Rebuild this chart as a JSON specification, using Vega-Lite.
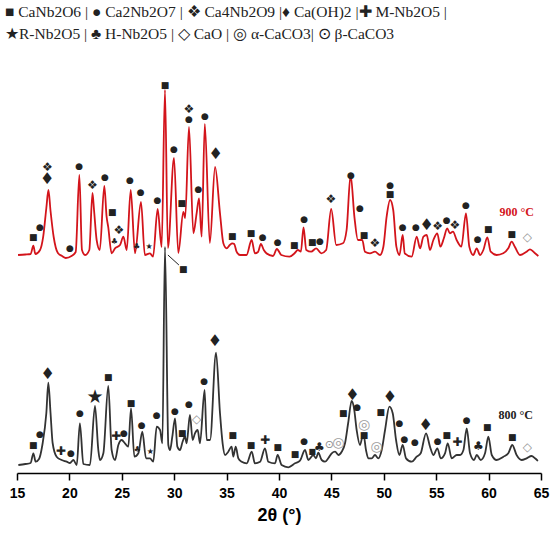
{
  "$schema": "https://vega.github.io/schema/vega-lite/v6.json",
  "width": 524,
  "height": 428,
  "autosize": "none",
  "padding": {"left": 17, "top": 45, "right": 9, "bottom": 77},
  "background": "white",
  "config": {"view": {"stroke": null}},
  "title": {
    "text": ["■ CaNb2O6 | ● Ca2Nb2O7 | ❖ Ca4Nb2O9 |♦ Ca(OH)2 |✚ M-Nb2O5 |", "★R-Nb2O5 | ♣ H-Nb2O5 | ◇ CaO | ◎ α-CaCO3| ⊙ β-CaCO3"],
    "anchor": "start",
    "frame": "group",
    "dx": -12,
    "offset": 3,
    "font": "Liberation Serif",
    "fontSize": 15.5,
    "fontWeight": "normal",
    "lineHeight": 22,
    "color": "#222"
  },
  "datasets": {
    "curves": [
      {"s":"900 °C","t":15.1,"v":218},{"s":"900 °C","t":15.8,"v":218.5},{"s":"900 °C","t":16.3,"v":219},{"s":"900 °C","t":16.56,"v":227.3},{"s":"900 °C","t":16.75,"v":219},{"s":"900 °C","t":17.2,"v":223},{"s":"900 °C","t":17.5,"v":236.3},{"s":"900 °C","t":17.8,"v":265},{"s":"900 °C","t":18.0,"v":283},{"s":"900 °C","t":18.2,"v":262},{"s":"900 °C","t":18.5,"v":236},{"s":"900 °C","t":18.9,"v":220},{"s":"900 °C","t":19.3,"v":217},{"s":"900 °C","t":19.65,"v":215},{"s":"900 °C","t":20.2,"v":217},{"s":"900 °C","t":20.6,"v":221},{"s":"900 °C","t":20.95,"v":298},{"s":"900 °C","t":21.2,"v":223},{"s":"900 °C","t":21.5,"v":218},{"s":"900 °C","t":21.9,"v":223},{"s":"900 °C","t":22.2,"v":280},{"s":"900 °C","t":22.35,"v":263},{"s":"900 °C","t":22.6,"v":233},{"s":"900 °C","t":22.9,"v":223},{"s":"900 °C","t":23.33,"v":287},{"s":"900 °C","t":23.55,"v":256.3},{"s":"900 °C","t":23.7,"v":246.3},{"s":"900 °C","t":24.03,"v":219.7},{"s":"900 °C","t":24.35,"v":224.7},{"s":"900 °C","t":24.83,"v":228},{"s":"900 °C","t":25.15,"v":236.3},{"s":"900 °C","t":25.47,"v":223},{"s":"900 °C","t":25.85,"v":283},{"s":"900 °C","t":26.26,"v":219.7},{"s":"900 °C","t":26.83,"v":271},{"s":"900 °C","t":27.2,"v":218},{"s":"900 °C","t":27.69,"v":219.7},{"s":"900 °C","t":27.98,"v":216.3},{"s":"900 °C","t":28.42,"v":264},{"s":"900 °C","t":28.8,"v":226},{"s":"900 °C","t":29.12,"v":383},{"s":"900 °C","t":29.4,"v":225},{"s":"900 °C","t":29.98,"v":315},{"s":"900 °C","t":30.39,"v":220},{"s":"900 °C","t":30.87,"v":261},{"s":"900 °C","t":31.05,"v":255},{"s":"900 °C","t":31.41,"v":346},{"s":"900 °C","t":31.83,"v":239.7},{"s":"900 °C","t":32.14,"v":259.7},{"s":"900 °C","t":32.37,"v":274.7},{"s":"900 °C","t":32.62,"v":236.3},{"s":"900 °C","t":32.92,"v":349},{"s":"900 °C","t":33.4,"v":230},{"s":"900 °C","t":33.9,"v":306},{"s":"900 °C","t":34.37,"v":259.7},{"s":"900 °C","t":34.69,"v":229.7},{"s":"900 °C","t":35.0,"v":224.7},{"s":"900 °C","t":35.31,"v":228},{"s":"900 °C","t":35.54,"v":229.7},{"s":"900 °C","t":35.73,"v":229},{"s":"900 °C","t":35.95,"v":221.3},{"s":"900 °C","t":36.27,"v":218},{"s":"900 °C","t":36.9,"v":218},{"s":"900 °C","t":37.39,"v":233},{"s":"900 °C","t":37.7,"v":219.7},{"s":"900 °C","t":38.0,"v":221},{"s":"900 °C","t":38.27,"v":229},{"s":"900 °C","t":38.55,"v":223},{"s":"900 °C","t":38.8,"v":219.7},{"s":"900 °C","t":39.43,"v":217},{"s":"900 °C","t":39.8,"v":224},{"s":"900 °C","t":40.22,"v":218},{"s":"900 °C","t":41.0,"v":216.3},{"s":"900 °C","t":41.48,"v":219.7},{"s":"900 °C","t":41.8,"v":223},{"s":"900 °C","t":42.09,"v":221.5},{"s":"900 °C","t":42.34,"v":245.7},{"s":"900 °C","t":42.6,"v":223},{"s":"900 °C","t":43.07,"v":221.3},{"s":"900 °C","t":43.55,"v":224.7},{"s":"900 °C","t":44.03,"v":219.7},{"s":"900 °C","t":44.5,"v":223},{"s":"900 °C","t":44.98,"v":264},{"s":"900 °C","t":45.46,"v":228},{"s":"900 °C","t":46.1,"v":229.7},{"s":"900 °C","t":46.45,"v":243},{"s":"900 °C","t":46.83,"v":298},{"s":"900 °C","t":47.2,"v":255.7},{"s":"900 °C","t":47.53,"v":233},{"s":"900 °C","t":47.95,"v":233},{"s":"900 °C","t":48.2,"v":221.3},{"s":"900 °C","t":48.68,"v":219.7},{"s":"900 °C","t":49.16,"v":221.3},{"s":"900 °C","t":49.64,"v":218},{"s":"900 °C","t":49.96,"v":226.3},{"s":"900 °C","t":50.27,"v":256.3},{"s":"900 °C","t":50.6,"v":273},{"s":"900 °C","t":50.9,"v":263},{"s":"900 °C","t":51.2,"v":226.3},{"s":"900 °C","t":51.5,"v":218},{"s":"900 °C","t":51.8,"v":238},{"s":"900 °C","t":52.0,"v":219.7},{"s":"900 °C","t":52.66,"v":216.3},{"s":"900 °C","t":53.14,"v":236.3},{"s":"900 °C","t":53.46,"v":224.7},{"s":"900 °C","t":53.78,"v":236.3},{"s":"900 °C","t":54.1,"v":238},{"s":"900 °C","t":54.4,"v":223},{"s":"900 °C","t":54.73,"v":233},{"s":"900 °C","t":55.1,"v":239.7},{"s":"900 °C","t":55.4,"v":226.3},{"s":"900 °C","t":55.73,"v":234.7},{"s":"900 °C","t":56.05,"v":244.7},{"s":"900 °C","t":56.3,"v":239.7},{"s":"900 °C","t":56.6,"v":241.3},{"s":"900 °C","t":56.95,"v":233},{"s":"900 °C","t":57.4,"v":226.3},{"s":"900 °C","t":57.84,"v":259.7},{"s":"900 °C","t":58.16,"v":226.3},{"s":"900 °C","t":58.54,"v":218},{"s":"900 °C","t":58.86,"v":224.7},{"s":"900 °C","t":59.18,"v":218},{"s":"900 °C","t":59.5,"v":223},{"s":"900 °C","t":59.88,"v":235.7},{"s":"900 °C","t":60.2,"v":221.3},{"s":"900 °C","t":60.77,"v":218},{"s":"900 °C","t":61.4,"v":219.7},{"s":"900 °C","t":61.88,"v":224.7},{"s":"900 °C","t":62.2,"v":231.3},{"s":"900 °C","t":62.5,"v":226.3},{"s":"900 °C","t":63.0,"v":218},{"s":"900 °C","t":63.63,"v":221.3},{"s":"900 °C","t":63.95,"v":223.7},{"s":"900 °C","t":64.43,"v":219.7},{"s":"900 °C","t":64.75,"v":217},
      {"s":"800 °C","t":15.13,"v":8},{"s":"800 °C","t":15.8,"v":9},{"s":"800 °C","t":16.3,"v":10},{"s":"800 °C","t":16.56,"v":19.7},{"s":"800 °C","t":16.78,"v":11.3},{"s":"800 °C","t":17.1,"v":14},{"s":"800 °C","t":17.42,"v":28},{"s":"800 °C","t":17.8,"v":60},{"s":"800 °C","t":17.99,"v":90.3},{"s":"800 °C","t":18.2,"v":60},{"s":"800 °C","t":18.4,"v":30},{"s":"800 °C","t":18.78,"v":16.3},{"s":"800 °C","t":19.26,"v":13},{"s":"800 °C","t":19.74,"v":11.3},{"s":"800 °C","t":20.05,"v":10},{"s":"800 °C","t":20.38,"v":13},{"s":"800 °C","t":20.7,"v":8},{"s":"800 °C","t":21.0,"v":49.7},{"s":"800 °C","t":21.33,"v":9},{"s":"800 °C","t":21.96,"v":8},{"s":"800 °C","t":22.44,"v":67},{"s":"800 °C","t":22.76,"v":23},{"s":"800 °C","t":22.92,"v":13},{"s":"800 °C","t":23.24,"v":19.7},{"s":"800 °C","t":23.71,"v":87},{"s":"800 °C","t":24.03,"v":23},{"s":"800 °C","t":24.35,"v":13},{"s":"800 °C","t":24.67,"v":28},{"s":"800 °C","t":24.99,"v":33},{"s":"800 °C","t":25.3,"v":29.7},{"s":"800 °C","t":25.62,"v":26.3},{"s":"800 °C","t":25.88,"v":64.7},{"s":"800 °C","t":26.2,"v":16.3},{"s":"800 °C","t":26.58,"v":19.7},{"s":"800 °C","t":26.96,"v":41.3},{"s":"800 °C","t":27.31,"v":14.7},{"s":"800 °C","t":27.69,"v":14.7},{"s":"800 °C","t":28.0,"v":11.3},{"s":"800 °C","t":28.33,"v":46.3},{"s":"800 °C","t":28.65,"v":43},{"s":"800 °C","t":28.87,"v":29.7},{"s":"800 °C","t":29.12,"v":226},{"s":"800 °C","t":29.44,"v":28},{"s":"800 °C","t":29.6,"v":23},{"s":"800 °C","t":29.82,"v":36.3},{"s":"800 °C","t":30.08,"v":54.7},{"s":"800 °C","t":30.3,"v":26.3},{"s":"800 °C","t":30.55,"v":23},{"s":"800 °C","t":30.8,"v":31.3},{"s":"800 °C","t":31.03,"v":36.3},{"s":"800 °C","t":31.19,"v":29.7},{"s":"800 °C","t":31.5,"v":58},{"s":"800 °C","t":31.76,"v":33},{"s":"800 °C","t":31.98,"v":39.7},{"s":"800 °C","t":32.24,"v":43},{"s":"800 °C","t":32.46,"v":29.7},{"s":"800 °C","t":32.9,"v":83},{"s":"800 °C","t":33.1,"v":33},{"s":"800 °C","t":33.42,"v":33},{"s":"800 °C","t":33.99,"v":120.3},{"s":"800 °C","t":34.37,"v":59.7},{"s":"800 °C","t":34.62,"v":29.7},{"s":"800 °C","t":34.85,"v":18},{"s":"800 °C","t":35.16,"v":21.3},{"s":"800 °C","t":35.48,"v":26.3},{"s":"800 °C","t":35.64,"v":16.3},{"s":"800 °C","t":35.87,"v":26.3},{"s":"800 °C","t":36.12,"v":14.7},{"s":"800 °C","t":36.44,"v":11.3},{"s":"800 °C","t":36.92,"v":9.7},{"s":"800 °C","t":37.4,"v":21.3},{"s":"800 °C","t":37.7,"v":9.7},{"s":"800 °C","t":38.2,"v":11.3},{"s":"800 °C","t":38.66,"v":24.7},{"s":"800 °C","t":38.98,"v":11.3},{"s":"800 °C","t":39.62,"v":9.7},{"s":"800 °C","t":39.87,"v":18},{"s":"800 °C","t":40.25,"v":8},{"s":"800 °C","t":40.89,"v":5.7},{"s":"800 °C","t":41.53,"v":9.7},{"s":"800 °C","t":42.0,"v":12.3},{"s":"800 °C","t":42.48,"v":23},{"s":"800 °C","t":42.8,"v":13},{"s":"800 °C","t":43.27,"v":18},{"s":"800 °C","t":43.53,"v":14.7},{"s":"800 °C","t":43.75,"v":20.3},{"s":"800 °C","t":44.07,"v":13},{"s":"800 °C","t":44.39,"v":11.3},{"s":"800 °C","t":44.7,"v":14.7},{"s":"800 °C","t":45.03,"v":19.7},{"s":"800 °C","t":45.35,"v":21.3},{"s":"800 °C","t":45.67,"v":18},{"s":"800 °C","t":45.98,"v":21.3},{"s":"800 °C","t":46.3,"v":29.7},{"s":"800 °C","t":46.6,"v":50},{"s":"800 °C","t":46.93,"v":72},{"s":"800 °C","t":47.16,"v":64.7},{"s":"800 °C","t":47.41,"v":43},{"s":"800 °C","t":47.73,"v":28},{"s":"800 °C","t":48.05,"v":39.7},{"s":"800 °C","t":48.3,"v":23},{"s":"800 °C","t":48.52,"v":14.7},{"s":"800 °C","t":48.84,"v":14.7},{"s":"800 °C","t":49.16,"v":18},{"s":"800 °C","t":49.48,"v":14.7},{"s":"800 °C","t":49.8,"v":23},{"s":"800 °C","t":50.12,"v":43},{"s":"800 °C","t":50.53,"v":66.3},{"s":"800 °C","t":50.85,"v":59.7},{"s":"800 °C","t":51.17,"v":33},{"s":"800 °C","t":51.49,"v":18},{"s":"800 °C","t":51.8,"v":28},{"s":"800 °C","t":52.12,"v":14.7},{"s":"800 °C","t":52.66,"v":11.3},{"s":"800 °C","t":53.14,"v":16.3},{"s":"800 °C","t":53.52,"v":19.7},{"s":"800 °C","t":54.03,"v":39.7},{"s":"800 °C","t":54.41,"v":26.3},{"s":"800 °C","t":54.73,"v":18},{"s":"800 °C","t":55.11,"v":24.7},{"s":"800 °C","t":55.43,"v":14.7},{"s":"800 °C","t":55.84,"v":19.7},{"s":"800 °C","t":56.1,"v":29.7},{"s":"800 °C","t":56.48,"v":14.7},{"s":"800 °C","t":56.96,"v":18},{"s":"800 °C","t":57.28,"v":18},{"s":"800 °C","t":57.6,"v":23},{"s":"800 °C","t":57.91,"v":44.7},{"s":"800 °C","t":58.23,"v":19.7},{"s":"800 °C","t":58.61,"v":13},{"s":"800 °C","t":58.87,"v":18},{"s":"800 °C","t":59.25,"v":13},{"s":"800 °C","t":59.66,"v":19.7},{"s":"800 °C","t":59.98,"v":36.3},{"s":"800 °C","t":60.3,"v":18},{"s":"800 °C","t":60.77,"v":13},{"s":"800 °C","t":61.41,"v":16.3},{"s":"800 °C","t":61.88,"v":19.7},{"s":"800 °C","t":62.26,"v":28},{"s":"800 °C","t":62.67,"v":18},{"s":"800 °C","t":63.15,"v":13},{"s":"800 °C","t":63.63,"v":14.7},{"s":"800 °C","t":64.1,"v":17},{"s":"800 °C","t":64.43,"v":14.7},{"s":"800 °C","t":64.7,"v":12}
    ],
    "marks": [
      {"t":16.56,"v":236.3,"sym":"■","tr":false},{"t":17.19,"v":246.3,"sym":"●","tr":false},{"t":17.89,"v":306.5,"sym":"❖","tr":false},{"t":17.89,"v":294,"sym":"♦","tr":false},{"t":20.06,"v":225.3,"sym":"●","tr":false},{"t":20.94,"v":307,"sym":"●","tr":false},{"t":22.19,"v":288,"sym":"❖","tr":false},{"t":23.4,"v":295.7,"sym":"●","tr":false},{"t":24.09,"v":261.3,"sym":"■","tr":false},{"t":24.28,"v":230.7,"sym":"♣","tr":true},{"t":24.73,"v":243,"sym":"❖","tr":false},{"t":25.78,"v":293,"sym":"●","tr":false},{"t":26.42,"v":226.3,"sym":"♣","tr":true},{"t":27.6,"v":225.7,"sym":"★","tr":true},{"t":26.8,"v":281.3,"sym":"●","tr":false},{"t":28.39,"v":273,"sym":"●","tr":false},{"t":29.12,"v":388,"sym":"■","tr":false},{"t":29.98,"v":324,"sym":"●","tr":false},{"t":30.72,"v":269.7,"sym":"■","tr":false},{"t":31.41,"v":364,"sym":"❖","tr":false},{"t":31.41,"v":353.7,"sym":"●","tr":false},{"t":32.3,"v":283.7,"sym":"●","tr":false},{"t":32.94,"v":357,"sym":"●","tr":false},{"t":33.96,"v":319,"sym":"♦","tr":false},{"t":35.54,"v":237,"sym":"■","tr":false},{"t":37.33,"v":239.7,"sym":"■","tr":false},{"t":38.44,"v":236.3,"sym":"●","tr":false},{"t":39.88,"v":231.3,"sym":"●","tr":false},{"t":41.46,"v":228,"sym":"■","tr":false},{"t":42.39,"v":253.7,"sym":"●","tr":false},{"t":43.18,"v":231.3,"sym":"■","tr":false},{"t":43.91,"v":232,"sym":"●","tr":false},{"t":44.96,"v":273.7,"sym":"❖","tr":false},{"t":46.87,"v":298.3,"sym":"●","tr":false},{"t":47.73,"v":265,"sym":"●","tr":false},{"t":48.11,"v":238,"sym":"■","tr":false},{"t":49.16,"v":230.3,"sym":"❖","tr":false},{"t":50.6,"v":288,"sym":"●","tr":false},{"t":50.6,"v":278.7,"sym":"■","tr":false},{"t":51.8,"v":245.7,"sym":"●","tr":false},{"t":53.07,"v":245.7,"sym":"●","tr":false},{"t":54.09,"v":248,"sym":"♦","tr":false},{"t":55.14,"v":247,"sym":"❖","tr":false},{"t":56.0,"v":253,"sym":"●","tr":false},{"t":56.79,"v":248,"sym":"❖","tr":false},{"t":57.84,"v":268,"sym":"●","tr":false},{"t":58.96,"v":234,"sym":"●","tr":false},{"t":59.97,"v":244,"sym":"■","tr":false},{"t":62.2,"v":238.7,"sym":"■","tr":false},{"t":63.69,"v":235.7,"sym":"◇","tr":false},
      {"t":16.56,"v":28,"sym":"■","tr":false},{"t":17.19,"v":38.7,"sym":"●","tr":false},{"t":17.93,"v":98.7,"sym":"♦","tr":false},{"t":19.17,"v":22,"sym":"✚","tr":false},{"t":20.15,"v":19.7,"sym":"●","tr":false},{"t":21.01,"v":59.7,"sym":"●","tr":false},{"t":22.44,"v":75.7,"sym":"★","tr":false},{"t":23.71,"v":95.7,"sym":"■","tr":false},{"t":24.45,"v":37.3,"sym":"✚","tr":false},{"t":25.21,"v":40.3,"sym":"●","tr":false},{"t":25.88,"v":69.7,"sym":"■","tr":false},{"t":26.48,"v":23,"sym":"♣","tr":true},{"t":26.9,"v":48,"sym":"●","tr":false},{"t":27.72,"v":21.3,"sym":"★","tr":true},{"t":28.33,"v":58,"sym":"●","tr":false},{"t":30.87,"v":204,"sym":"■","tr":false},{"t":30.08,"v":62.3,"sym":"●","tr":false},{"t":30.77,"v":39.7,"sym":"■","tr":false},{"t":31.41,"v":68.7,"sym":"●","tr":false},{"t":32.15,"v":53.7,"sym":"◇","tr":false},{"t":32.87,"v":92.3,"sym":"●","tr":false},{"t":33.89,"v":132.3,"sym":"♦","tr":false},{"t":35.58,"v":38,"sym":"■","tr":false},{"t":37.33,"v":28,"sym":"■","tr":false},{"t":38.66,"v":33,"sym":"✚","tr":false},{"t":39.88,"v":26.3,"sym":"■","tr":false},{"t":41.53,"v":18.7,"sym":"■","tr":false},{"t":42.41,"v":32,"sym":"●","tr":false},{"t":43.18,"v":21.3,"sym":"■","tr":true},{"t":43.85,"v":26.3,"sym":"♣","tr":false},{"t":44.8,"v":28,"sym":"⊙","tr":false},{"t":45.66,"v":30.3,"sym":"◎","tr":false},{"t":46.14,"v":59.7,"sym":"■","tr":false},{"t":47.01,"v":78.5,"sym":"♦","tr":false},{"t":47.47,"v":66.3,"sym":"●","tr":false},{"t":48.13,"v":48.3,"sym":"◎","tr":false},{"t":48.11,"v":38,"sym":"■","tr":false},{"t":49.7,"v":60.7,"sym":"■","tr":false},{"t":49.32,"v":26.3,"sym":"◎","tr":false},{"t":50.59,"v":75.7,"sym":"♦","tr":false},{"t":51.48,"v":49.7,"sym":"●","tr":false},{"t":51.96,"v":34,"sym":"●","tr":false},{"t":52.98,"v":31.3,"sym":"●","tr":false},{"t":54.0,"v":48,"sym":"♦","tr":false},{"t":55.14,"v":32,"sym":"●","tr":false},{"t":56.0,"v":38,"sym":"■","tr":false},{"t":57.01,"v":31.3,"sym":"✚","tr":false},{"t":57.91,"v":53,"sym":"●","tr":false},{"t":59.02,"v":27,"sym":"♣","tr":false},{"t":59.88,"v":46.3,"sym":"■","tr":false},{"t":62.26,"v":36.3,"sym":"■","tr":false},{"t":63.69,"v":25.7,"sym":"◇","tr":false}
    ],
    "labels": [
      {"s":"900 °C","t":64.33,"v":261},
      {"s":"800 °C","t":64.24,"v":58}
    ],
    "leader": [
      {"t":29.4,"v":218,"t2":30.45,"v2":208}
    ]
  },
  "layer": [
    {
      "data": {"name": "curves"},
      "mark": {"type": "line", "strokeWidth": 1.8, "strokeJoin": "round", "interpolate": "monotone"},
      "encoding": {
        "x": {
          "field": "t", "type": "quantitative",
          "scale": {"domain": [15, 65], "nice": false, "zero": false},
          "axis": {
            "title": "2θ (°)",
            "values": [15, 17.5, 20, 22.5, 25, 27.5, 30, 32.5, 35, 37.5, 40, 42.5, 45, 47.5, 50, 52.5, 55, 57.5, 60, 62.5, 65],
            "labelExpr": "datum.value % 5 === 0 ? datum.label : ''",
            "tickSize": {"condition": {"test": "datum.value % 5 === 0", "value": 7}, "value": 4},
            "grid": false,
            "domainColor": "#000", "domainWidth": 1.5,
            "tickColor": "#000", "tickWidth": 1.5,
            "labelFont": "Liberation Sans", "labelFontSize": 14, "labelFontWeight": "bold", "labelColor": "#000",
            "labelPadding": 6, "labelFlush": false,
            "titleFont": "Liberation Sans", "titleFontSize": 18, "titleFontWeight": "bold", "titleColor": "#000",
            "titlePadding": 6
          }
        },
        "y": {"field": "v", "type": "quantitative", "scale": {"domain": [0, 428], "nice": false, "zero": false}, "axis": null},
        "color": {"field": "s", "type": "nominal", "scale": {"domain": ["900 °C", "800 °C"], "range": ["#d3141b", "#333333"]}, "legend": null},
        "order": {"field": "t", "type": "quantitative"}
      }
    },
    {
      "data": {"name": "leader"},
      "mark": {"type": "rule", "color": "#222", "strokeWidth": 1},
      "encoding": {
        "x": {"field": "t", "type": "quantitative"},
        "y": {"field": "v", "type": "quantitative"},
        "x2": {"field": "t2"},
        "y2": {"field": "v2"}
      }
    },
    {
      "data": {"name": "marks"},
      "transform": [{"filter": "!datum.tr"}],
      "mark": {"type": "text", "font": "DejaVu Sans", "align": "center", "baseline": "middle"},
      "encoding": {
        "x": {"field": "t", "type": "quantitative"},
        "y": {"field": "v", "type": "quantitative"},
        "text": {"field": "sym"},
        "color": {"field": "sym", "type": "nominal", "scale": {"domain": ["■", "●", "❖", "♦", "✚", "★", "♣", "◇", "◎", "⊙"], "range": ["#222", "#222", "#222", "#222", "#222", "#222", "#222", "#999", "#a0a0a0", "#888"]}, "legend": null},
        "size": {"field": "sym", "type": "ordinal", "scale": {"type": "ordinal", "domain": ["■", "●", "❖", "♦", "✚", "★", "♣", "◇", "◎", "⊙"], "range": [9, 9, 12, 16, 12, 19, 12, 12, 14, 11]}, "legend": null}
      }
    },
    {
      "data": {"name": "marks"},
      "transform": [{"filter": "datum.tr"}],
      "mark": {"type": "text", "font": "DejaVu Sans", "align": "center", "baseline": "middle", "fontSize": 8, "color": "#222"},
      "encoding": {
        "x": {"field": "t", "type": "quantitative"},
        "y": {"field": "v", "type": "quantitative"},
        "text": {"field": "sym"}
      }
    },
    {
      "data": {"name": "labels"},
      "mark": {"type": "text", "font": "Liberation Serif", "fontSize": 12, "fontWeight": "bold", "align": "right", "baseline": "middle"},
      "encoding": {
        "x": {"field": "t", "type": "quantitative"},
        "y": {"field": "v", "type": "quantitative"},
        "text": {"field": "s"},
        "color": {"field": "s", "type": "nominal", "scale": {"domain": ["900 °C", "800 °C"], "range": ["#d3141b", "#222222"]}, "legend": null}
      }
    }
  ],
  "resolve": {"scale": {"color": "independent"}}
}
